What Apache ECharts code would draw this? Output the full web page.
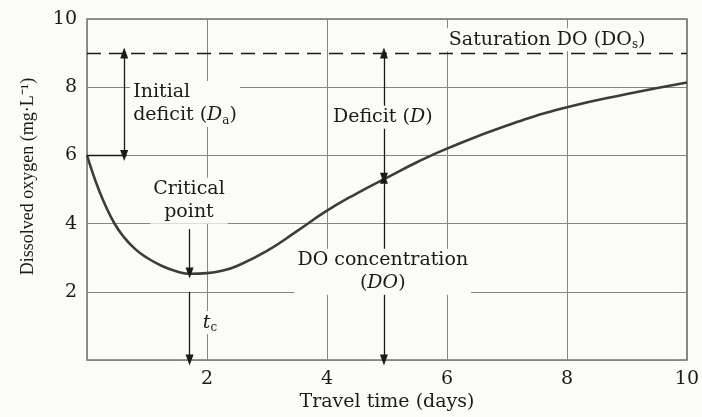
<!DOCTYPE html>
<html>
<head>
<meta charset="utf-8">
<script src="https://cdn.jsdelivr.net/npm/echarts@6/dist/echarts.min.js"></script>
<style>
  html, body { margin: 0; background: #fcfcf6; }
  #main { width: 702px; height: 417px; }
</style>
</head>
<body>
<div id="main"></div>
<script>
// oxygen sag curve
const days = [0, 0.1, 0.2, 0.3, 0.45, 0.6, 0.8, 1, 1.25, 1.5, 1.72, 2, 2.25, 2.5, 3, 3.5, 4, 4.5, 5, 5.5, 6, 7, 8, 9, 10];
const oxygen = [6.0, 5.46, 4.98, 4.56, 4.03, 3.64, 3.26, 3.0, 2.76, 2.6, 2.53, 2.55, 2.62, 2.76, 3.2, 3.78, 4.38, 4.89, 5.35, 5.8, 6.2, 6.88, 7.41, 7.8, 8.14];

const tickValues = [2, 4, 6, 8, 10];
const saturationDO = 9;
const initialDO = 6;
const initialEnd = 0.66;

// arrows: from -> to, and which ends get a head
const arrowFrom = [[0.62, 9], [4.95, 9], [4.95, 5.33], [1.71, 3.84], [1.71, 2.0]];
const arrowTo = [[0.62, 6], [4.95, 5.33], [4.95, 0], [1.71, 2.55], [1.71, 0]];
const arrowHeads = [[true, true], [true, true], [true, true], [false, true], [false, true]];

// annotation texts
const noteAt = [[0.72, 7.51], [1.70, 4.67], [1.88, 1.1], [4.93, 7.12], [4.93, 2.59], [7.67, 9.39]];
const noteText = [
  '{n|Initial}\n{n|deficit (}{i|D}{s|a}{n|)}',
  '{n|Critical}\n{n|point}',
  '{i|t}{s|c}',
  '{n|Deficit (}{i|D}{n|)}',
  '{n|DO concentration}\n{n|(}{i|DO}{n|)}',
  '{n|Saturation DO (DO}{s|s}{n|)}'
];
const noteLeft = [true, false, true, false, false, false];

const serif = 'DejaVu Serif';
const bg = '#fcfcf6';
const ink = '#1a1a1a';

const rich = {
  n: { fontFamily: serif, fontSize: 19, color: ink, lineHeight: 23, verticalAlign: 'middle' },
  i: { fontFamily: serif, fontSize: 19, fontStyle: 'italic', color: ink, lineHeight: 23, verticalAlign: 'middle' },
  s: { fontFamily: serif, fontSize: 12, color: ink, lineHeight: 12, verticalAlign: 'bottom' }
};

const headStyle = 'triangle';
const arrowLines = arrowFrom.map(function (p, k) {
  return [
    { coord: p, symbol: arrowHeads[k][0] ? headStyle : 'none', lineStyle: { color: ink, width: 1.3, type: 'solid' } },
    { coord: arrowTo[k], symbol: arrowHeads[k][1] ? headStyle : 'none' }
  ];
});

const notes = noteAt.map(function (p, k) {
  return {
    value: p,
    label: {
      show: true,
      formatter: noteText[k],
      position: noteLeft[k] ? 'right' : 'inside',
      distance: 0,
      align: noteLeft[k] ? 'left' : 'center',
      color: ink,
      opacity: 1,
      backgroundColor: bg,
      padding: [0, 3],
      rich: rich
    }
  };
});

var myChart = echarts.init(document.getElementById('main'));

let option = {
  backgroundColor: bg,
  animation: false,
  grid: {
    left: 87, right: 14, top: 19, bottom: 54,
    show: true,
    borderColor: '#707070',
    borderWidth: 1.5
  },
  xAxis: {
    type: 'value',
    min: 0, max: 10, interval: 2,
    name: 'Travel time (days)',
    nameLocation: 'middle',
    nameGap: 32,
    nameTextStyle: { fontFamily: serif, fontSize: 19, color: ink },
    axisLine: { show: false },
    axisTick: { show: false },
    axisLabel: {
      fontFamily: serif, fontSize: 19, color: ink, margin: 9,
      formatter: function (v) { return tickValues.indexOf(v) >= 0 ? String(v) : ''; }
    },
    splitLine: { show: true, lineStyle: { color: '#858585', width: 1 } }
  },
  yAxis: {
    type: 'value',
    min: 0, max: 10, interval: 2,
    name: 'Dissolved oxygen (mg·L⁻¹)',
    nameLocation: 'middle',
    nameGap: 50,
    nameTextStyle: { fontFamily: 'Liberation Serif', fontSize: 18, color: ink, padding: [0, 0, 0, 26] },
    axisLine: { show: false },
    axisTick: { show: false },
    axisLabel: {
      fontFamily: serif, fontSize: 19, color: ink, margin: 10,
      formatter: function (v) { return tickValues.indexOf(v) >= 0 ? String(v) : ''; }
    },
    splitLine: { show: true, lineStyle: { color: '#858585', width: 1 } }
  },
  series: [{
    name: 'DO',
    type: 'line',
    data: days.map(function (d, k) { return [d, oxygen[k]]; }),
    smooth: 0.5,
    showSymbol: false,
    z: 3,
    lineStyle: { color: '#3c3c3c', width: 2.6 },
    markLine: {
      silent: true,
      symbolSize: [8, 11],
      label: { show: false },
      data: [
        [
          { coord: [0, saturationDO], symbol: 'none', lineStyle: { color: ink, width: 1.4, type: [14, 8] } },
          { coord: [10, saturationDO], symbol: 'none' }
        ],
        [
          { coord: [0, initialDO], symbol: 'none', lineStyle: { color: ink, width: 1.4, type: 'solid' } },
          { coord: [initialEnd, initialDO], symbol: 'none' }
        ]
      ].concat(arrowLines)
    }
  }, {
    name: 'notes',
    type: 'scatter',
    symbolSize: 0,
    z: 6,
    silent: true,
    itemStyle: { opacity: 1 },
    data: notes
  }]
};

myChart.setOption(option);
</script>
</body>
</html>
